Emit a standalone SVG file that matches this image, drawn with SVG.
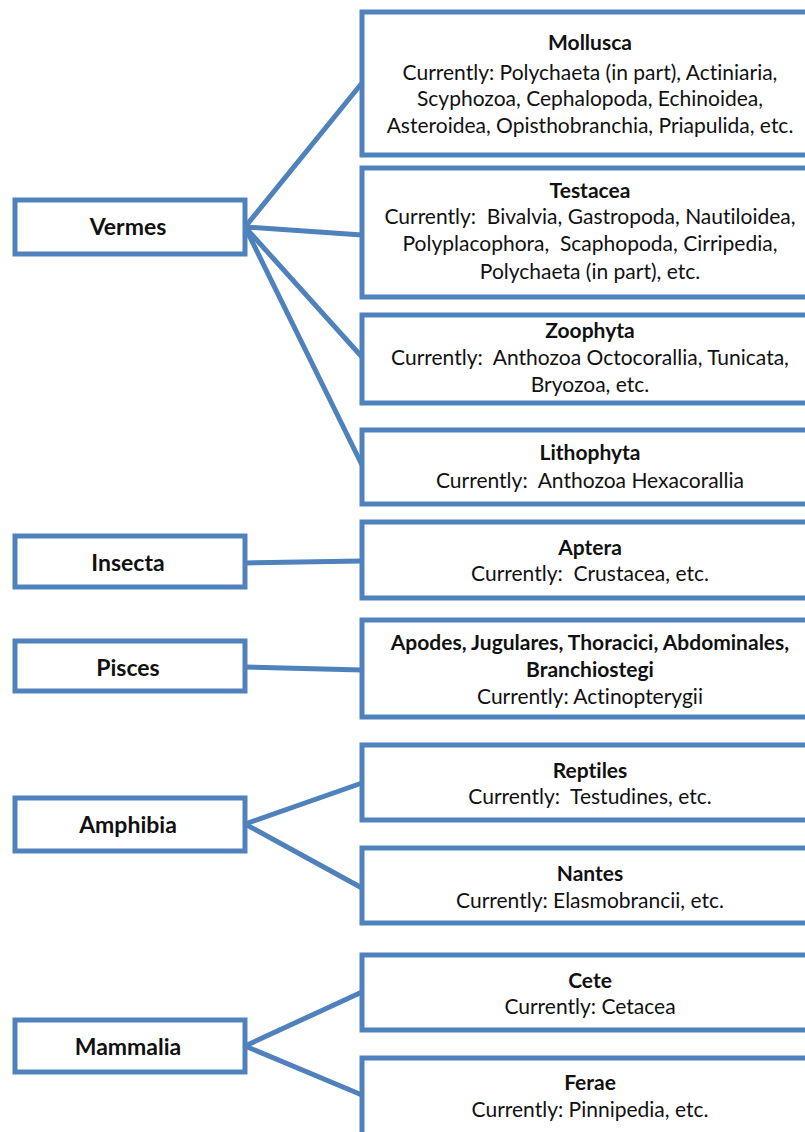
<svg xmlns="http://www.w3.org/2000/svg" width="805" height="1132" viewBox="0 0 805 1132">
<style>
.box{fill:#ffffff;stroke:#4f81bd;stroke-width:5}
.con{stroke:#4f81bd;stroke-width:5;fill:none;stroke-linecap:round}
text{font-family:Lato,"Open Sans","Liberation Sans",sans-serif;fill:#111;text-anchor:middle;white-space:pre;font-variant-ligatures:none;font-feature-settings:"liga" 0,"dlig" 0}
.t{font-size:21px;font-weight:bold}
.d{font-size:21px}
.l{font-size:23px;font-weight:bold}
</style>
<rect width="805" height="1132" fill="#ffffff"/>
<g id="connectors">
<line class="con" x1="245" y1="227" x2="362" y2="83"/>
<line class="con" x1="245" y1="227" x2="362" y2="235"/>
<line class="con" x1="245" y1="227" x2="362" y2="357"/>
<line class="con" x1="245" y1="227" x2="362" y2="465"/>
<line class="con" x1="245" y1="563" x2="362" y2="561"/>
<line class="con" x1="245" y1="667" x2="362" y2="670"/>
<line class="con" x1="245" y1="824" x2="362" y2="783"/>
<line class="con" x1="245" y1="824" x2="362" y2="888"/>
<line class="con" x1="245" y1="1046" x2="362" y2="992"/>
<line class="con" x1="245" y1="1046" x2="362" y2="1095"/>
</g>
<g id="vermes"><rect class="box" x="15" y="200" width="230" height="54"/><text class="l" x="128" y="235">Vermes</text></g>
<g id="insecta"><rect class="box" x="15" y="536" width="230" height="51"/><text class="l" x="128" y="571">Insecta</text></g>
<g id="pisces"><rect class="box" x="15" y="641" width="230" height="50"/><text class="l" x="128" y="676">Pisces</text></g>
<g id="amphibia"><rect class="box" x="15" y="798" width="230" height="53"/><text class="l" x="128" y="833">Amphibia</text></g>
<g id="mammalia"><rect class="box" x="15" y="1020" width="230" height="52"/><text class="l" x="128" y="1055">Mammalia</text></g>
<g id="mollusca"><rect class="box" x="362" y="12" width="460" height="143"/>
<text class="t" x="590" y="50">Mollusca</text>
<text class="d" x="590" y="80">Currently: Polychaeta (in part), Actiniaria,</text>
<text class="d" x="590" y="106">Scyphozoa, Cephalopoda, Echinoidea,</text>
<text class="d" x="590" y="133">Asteroidea, Opisthobranchia, Priapulida, etc.</text></g>
<g id="testacea"><rect class="box" x="362" y="168" width="460" height="129"/>
<text class="t" x="590" y="198">Testacea</text>
<text class="d" x="590" y="224">Currently:  Bivalvia, Gastropoda, Nautiloidea,</text>
<text class="d" x="590" y="251">Polyplacophora,  Scaphopoda, Cirripedia,</text>
<text class="d" x="590" y="279">Polychaeta (in part), etc.</text></g>
<g id="zoophyta"><rect class="box" x="362" y="315" width="460" height="88"/>
<text class="t" x="590" y="338">Zoophyta</text>
<text class="d" x="590" y="365">Currently:  Anthozoa Octocorallia, Tunicata,</text>
<text class="d" x="590" y="392">Bryozoa, etc.</text></g>
<g id="lithophyta"><rect class="box" x="362" y="430" width="460" height="74"/>
<text class="t" x="590" y="460">Lithophyta</text>
<text class="d" x="590" y="488">Currently:  Anthozoa Hexacorallia</text></g>
<g id="aptera"><rect class="box" x="362" y="522" width="460" height="76"/>
<text class="t" x="590" y="555">Aptera</text>
<text class="d" x="590" y="581">Currently:  Crustacea, etc.</text></g>
<g id="apodes"><rect class="box" x="362" y="620" width="460" height="97"/>
<text class="t" x="590" y="650">Apodes, Jugulares, Thoracici, Abdominales,</text>
<text class="t" x="590" y="677">Branchiostegi</text>
<text class="d" x="590" y="704">Currently: Actinopterygii</text></g>
<g id="reptiles"><rect class="box" x="362" y="745" width="460" height="75"/>
<text class="t" x="590" y="778">Reptiles</text>
<text class="d" x="590" y="804">Currently:  Testudines, etc.</text></g>
<g id="nantes"><rect class="box" x="362" y="848" width="460" height="75"/>
<text class="t" x="590" y="881">Nantes</text>
<text class="d" x="590" y="908">Currently: Elasmobrancii, etc.</text></g>
<g id="cete"><rect class="box" x="362" y="955" width="460" height="75"/>
<text class="t" x="590" y="988">Cete</text>
<text class="d" x="590" y="1014">Currently: Cetacea</text></g>
<g id="ferae"><rect class="box" x="362" y="1058" width="460" height="80"/>
<text class="t" x="590" y="1090">Ferae</text>
<text class="d" x="590" y="1117">Currently: Pinnipedia, etc.</text></g>
</svg>
